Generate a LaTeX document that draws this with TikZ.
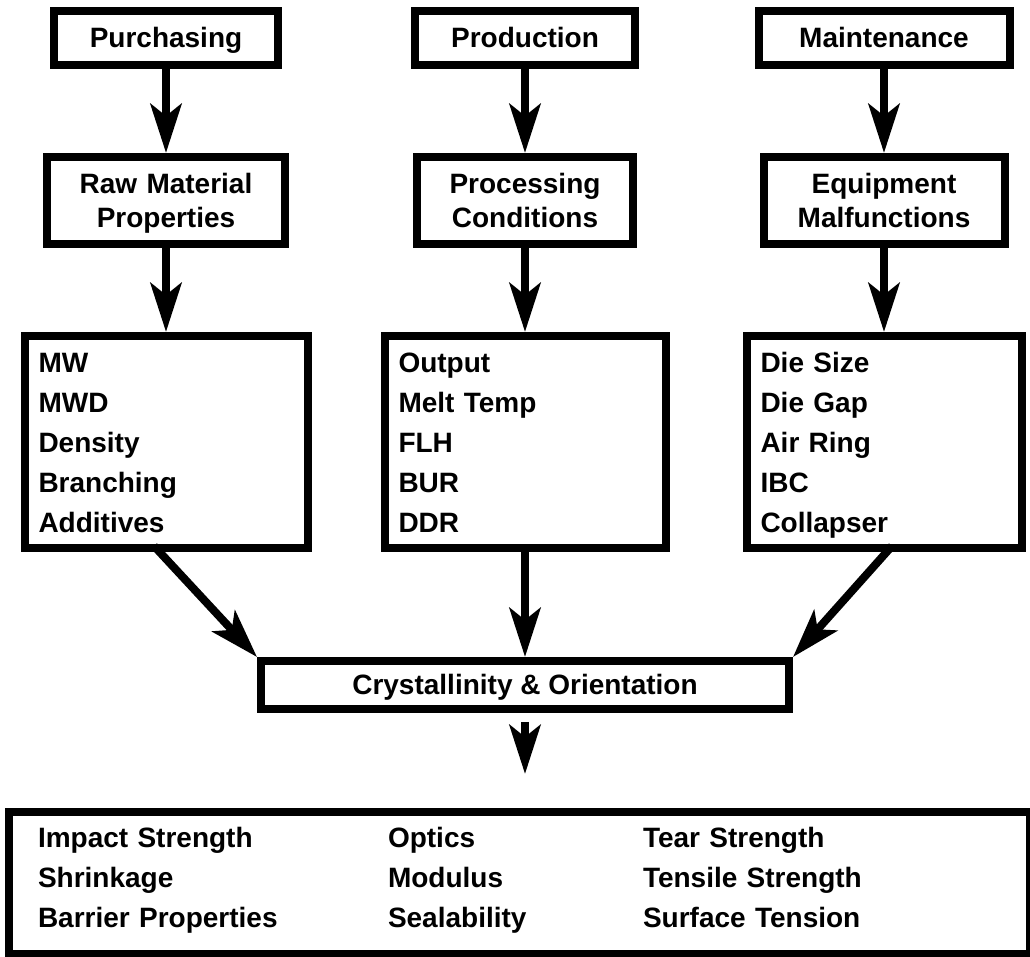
\documentclass[tikz,border=0pt]{standalone}
\usepackage{fontspec}
\setmainfont{Liberation Sans}
\usetikzlibrary{arrows.meta}

\begin{document}
\begin{tikzpicture}[
  x=1pt, y=1pt,
  box/.style={draw, line width=8pt, font=\fontsize{28}{34}\selectfont\bfseries},
  topbox/.style={box, minimum height=54pt, text height=20pt, text depth=0pt, inner sep=0pt},
  midbox/.style={box, align=center, minimum height=87pt, text height=20pt, text depth=34pt, inner sep=0pt},
  listbox/.style={box, align=left, inner xsep=14pt, inner ysep=0pt, text height=37pt, text depth=175pt,
    font=\fontsize{28}{40}\selectfont\bfseries},
  arr/.style={line width=8pt, -{Stealth[length=49pt, width=31pt, inset=12pt]}}
]
  \useasboundingbox (0,0) rectangle (1030,956);

  \node[topbox, minimum width=224pt] (purch) at (166,918) {Purchasing};
  \node[topbox, minimum width=220pt] (prod) at (525,918) {Production};
  \node[topbox, minimum width=251pt] (maint) at (884,918) {Maintenance};

  \node[midbox, text width=238pt] (raw) at (166,755.5) {Raw Material\\Properties};
  \node[midbox, text width=216pt] (proc) at (525,755.5) {Processing\\Conditions};
  \node[midbox, text width=241pt] (equip) at (884,755.5) {Equipment\\Malfunctions};

  \node[listbox, text width=255pt] (mat) at (166,514) {MW\\MWD\\Density\\Branching\\Additives};
  \node[listbox, text width=253pt] (cond) at (525,514) {Output\\Melt Temp\\FLH\\BUR\\DDR};
  \node[listbox, text width=247pt] (mach) at (884,514) {Die Size\\Die Gap\\Air Ring\\IBC\\Collapser};

  \node[topbox, minimum width=528pt, minimum height=48pt] (cryst) at (525,271) {Crystallinity \& Orientation};

  \node[box, inner xsep=29pt, inner ysep=0pt, text width=963pt, text height=35pt, text depth=107pt,
    font=\fontsize{28}{40}\selectfont\bfseries] (props) at (519.5,73) {%
    \begin{tabular}[t]{@{}p{350pt}@{}p{255pt}@{}l@{}}
      Impact Strength & Optics & Tear Strength\\
      Shrinkage & Modulus & Tensile Strength\\
      Barrier Properties & Sealability & Surface Tension
    \end{tabular}};

  \draw[arr] (purch.south) -- (raw.north);
  \draw[arr] (prod.south) -- (proc.north);
  \draw[arr] (maint.south) -- (equip.north);

  \draw[arr] (raw.south) -- (mat.north);
  \draw[arr] (proc.south) -- (cond.north);
  \draw[arr] (equip.south) -- (mach.north);

  \draw[arr] ([xshift=-12pt, yshift=6pt]mat.south) -- (cryst.north west);
  \draw[arr] (cond.south) -- (cryst.north);
  \draw[arr] ([xshift=8pt, yshift=6pt]mach.south) -- (cryst.north east);

  \coordinate (down1) at (525,234);
  \coordinate (down2) at (525,182);
  \draw[arr] (down1) -- (down2);
\end{tikzpicture}
\end{document}
